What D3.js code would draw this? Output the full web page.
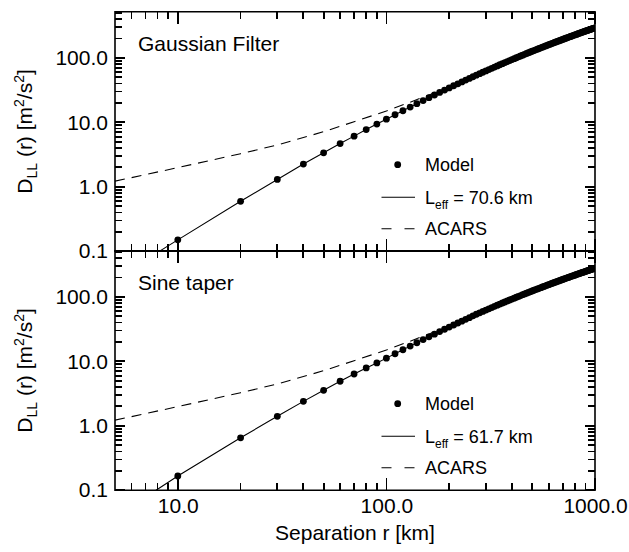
<!DOCTYPE html>
<html>
<head>
<meta charset="utf-8">
<script src="https://cdn.jsdelivr.net/npm/d3@7"></script>
<style>
  body { margin: 0; background: #fff; }
  svg { display: block; font-family: 'Liberation Sans', Arial, Helvetica, sans-serif; color: #000; }
</style>
</head>
<body>
<div id="chart"></div>
<script>
// Separation r [km] of the model points
const sepKm = [10, 20, 30, 40, 50, 60, 70, 80, 90, 100,
  110, 120, 130, 140, 150, 160, 170, 180, 190, 200,
  210, 220, 230, 240, 250, 260, 270, 280, 290, 300,
  310, 320, 330, 340, 350, 360, 370, 380, 390, 400,
  410, 420, 430, 440, 450, 460, 470, 480, 490, 500,
  510, 520, 530, 540, 550, 560, 570, 580, 590, 600,
  610, 620, 630, 640, 650, 660, 670, 680, 690, 700,
  710, 720, 730, 740, 750, 760, 770, 780, 790, 800,
  810, 820, 830, 840, 850, 860, 870, 880, 890, 900,
  910, 920, 930, 940, 950, 960, 970, 980, 990, 1000];

// D_LL(r) of the model, Gaussian filter panel
const gaussModel = [0.150, 0.594, 1.30, 2.25, 3.36, 4.68, 6.10, 7.72, 9.40, 11.17,
  13.10, 15.12, 17.24, 19.45, 21.74, 24.09, 26.52, 29.03, 31.59, 34.20,
  36.88, 39.60, 42.36, 45.18, 48.02, 50.90, 53.83, 56.79, 59.75, 62.75,
  65.80, 68.83, 71.91, 75.02, 78.14, 81.28, 84.43, 87.59, 90.80, 93.99,
  97.21, 100.4, 103.7, 106.9, 110.2, 113.4, 116.7, 120.0, 123.2, 126.6,
  129.8, 133.1, 136.4, 139.7, 143.0, 146.4, 149.7, 153.0, 156.4, 159.7,
  163.0, 166.4, 169.7, 173.0, 176.4, 179.7, 183.1, 186.4, 189.8, 193.1,
  196.5, 199.8, 203.2, 206.5, 209.9, 213.2, 216.6, 219.9, 223.3, 226.6,
  229.9, 233.2, 236.6, 239.9, 243.2, 246.6, 249.9, 253.2, 256.5, 259.8,
  263.1, 266.5, 269.8, 273.1, 276.4, 279.7, 283.0, 286.2, 289.5, 292.8];

// D_LL(r) of the model, sine taper panel
const sineModel = [0.166, 0.65, 1.40, 2.39, 3.55, 4.90, 6.35, 7.90, 9.45, 11.2,
  13.1, 15.1, 17.2, 19.4, 21.7, 24.0, 26.4, 28.9, 31.4, 34.0,
  36.6, 39.3, 42.0, 44.8, 47.6, 50.8, 53.7, 56.6, 59.4, 62.3,
  65.3, 68.2, 71.2, 74.2, 77.2, 80.2, 83.2, 86.3, 89.3, 92.4,
  95.5, 98.5, 101.7, 104.7, 107.9, 110.9, 114.0, 117.2, 120.2, 123.4,
  126.5, 129.6, 132.7, 135.8, 138.9, 142.1, 145.2, 148.4, 151.6, 154.7,
  157.8, 161.0, 164.0, 167.1, 170.3, 173.4, 176.6, 179.7, 182.9, 185.9,
  189.1, 192.2, 195.3, 198.4, 201.6, 204.6, 207.8, 210.9, 214.0, 217.1,
  220.2, 223.2, 226.4, 229.4, 232.5, 235.6, 238.7, 241.7, 244.8, 247.8,
  250.8, 254.0, 257.0, 260.1, 263.1, 266.1, 269.2, 272.1, 275.1, 278.2];

// where the fitted (solid) line enters from below the panel
const fitStartR = [8.0, 7.8];
const fitStartV = [0.096, 0.098];

// ACARS structure function (dashed)
const acarsR = [5, 10, 20, 30, 40, 50, 70, 100, 130, 160, 190, 200];
const acarsV = [1.22, 1.98, 3.25, 4.45, 5.8, 7.15, 10.2, 15.0, 20.5, 26.5, 33.0, 35.3];

const panelTitles = ['Gaussian Filter', 'Sine taper'];
const leffLabels = ['70.6', '61.7'];

// tick values
const xMajor = [10, 100, 1000];
const xMinor = [6, 7, 8, 9, 20, 30, 40, 50, 60, 70, 80, 90, 200, 300, 400, 500, 600, 700, 800, 900];
const yMajor = [0.1, 1, 10, 100];
const yMinor = [0.2, 0.3, 0.4, 0.5, 0.6, 0.7, 0.8, 0.9, 2, 3, 4, 5, 6, 7, 8, 9,
  20, 30, 40, 50, 60, 70, 80, 90, 200, 300, 400, 500];

const width = 629;
const height = 552;
const left = 115, right = 595;
const panelTops = [11.7, 250.7];
const panelH = 239.5;

const svg = d3.select('#chart')
  .append('svg')
  .attr('width', width)
  .attr('height', height);

const x = d3.scaleLog().domain([5, 1000]).range([left, right]);
const fmt = d3.format('.1f');

const models = [gaussModel, sineModel];

panelTops.forEach((pTop, i) => {
  const pBottom = pTop + panelH;
  const y = d3.scaleLog().domain([0.1, 520]).range([pBottom, pTop]);
  const g = svg.append('g');

  // clip
  const clipId = 'clip' + i;
  svg.append('clipPath').attr('id', clipId)
    .append('rect')
    .attr('x', left).attr('y', pTop)
    .attr('width', right - left).attr('height', pBottom - pTop);

  const plot = g.append('g').attr('clip-path', `url(#${clipId})`);

  const line = d3.line()
    .x(d => x(d[0]))
    .y(d => y(d[1]));

  // ACARS dashed
  plot.append('path')
    .datum(acarsR.map((r, k) => [r, acarsV[k]]))
    .attr('d', line)
    .attr('fill', 'none')
    .attr('stroke', '#000')
    .attr('stroke-width', 1.1)
    .attr('stroke-dasharray', '10,7');

  // fitted solid line
  const model = models[i];
  const fitData = [[fitStartR[i], fitStartV[i]]].concat(sepKm.map((r, k) => [r, model[k]]));
  plot.append('path')
    .datum(fitData)
    .attr('d', line)
    .attr('fill', 'none')
    .attr('stroke', '#000')
    .attr('stroke-width', 1.1);

  // model points
  plot.selectAll('circle.pt')
    .data(sepKm.map((r, k) => [r, model[k]]))
    .join('circle')
    .attr('class', 'pt')
    .attr('cx', d => x(d[0]))
    .attr('cy', d => y(d[1]))
    .attr('r', 3.4)
    .attr('fill', '#000');

  // frame
  g.append('path')
    .attr('d', `M${left},${pTop}H${right}V${pBottom}H${left}Z`)
    .attr('fill', 'none')
    .attr('stroke', '#000')
    .attr('stroke-width', 1.6);

  // tick labels from d3 axes
  const yAx = g.append('g')
    .attr('transform', `translate(${left},0)`)
    .call(d3.axisLeft(y).tickValues(yMajor).tickSize(0).tickPadding(7).tickFormat(fmt));
  yAx.select('.domain').remove();
  yAx.selectAll('text').style('font-size', '21px').attr('fill', '#000');

  if (i === 1) {
    const xAx = g.append('g')
      .attr('transform', `translate(0,${pBottom})`)
      .call(d3.axisBottom(x).tickValues(xMajor).tickSize(0).tickPadding(8).tickFormat(fmt));
    xAx.select('.domain').remove();
    xAx.selectAll('text').style('font-size', '21px').attr('fill', '#000');
  }

  // tick marks, all pointing inward, drawn on top
  const yTicks = yMajor.map(v => [v, 10]).concat(yMinor.map(v => [v, 7]));
  const xTicks = xMajor.map(v => [v, 12]).concat(xMinor.map(v => [v, 7]));
  let tickPath = '';
  yTicks.forEach(d => {
    const ty = y(d[0]).toFixed(2);
    tickPath += `M${left},${ty}h${d[1]}M${right},${ty}h${-d[1]}`;
  });
  xTicks.forEach(d => {
    const tx = x(d[0]).toFixed(2);
    tickPath += `M${tx},${pTop}v${d[1]}M${tx},${pBottom}v${-d[1]}`;
  });
  g.append('path')
    .attr('class', 'ticks')
    .attr('d', tickPath)
    .attr('fill', 'none')
    .attr('stroke', '#000')
    .attr('stroke-width', 1.8)
    .attr('shape-rendering', 'crispEdges');

  // panel title
  g.append('text')
    .attr('x', 138)
    .attr('y', pTop + 39.5)
    .style('font-size', '21px')
    .text(panelTitles[i]);

  // legend
  const lg = g.append('g').style('font-size', '18px');
  const rows = [pTop + 153, pTop + 185.5, pTop + 217];
  lg.append('circle').attr('cx', 397.7).attr('cy', rows[0]).attr('r', 3.4).attr('fill', '#000');
  lg.append('text').attr('x', 425).attr('y', rows[0]).attr('dy', '0.36em').text('Model');
  lg.append('line')
    .attr('x1', 381.5).attr('x2', 415).attr('y1', rows[1]).attr('y2', rows[1])
    .attr('stroke', '#000').attr('stroke-width', 1.1);
  const lt = lg.append('text').attr('x', 425).attr('y', rows[1]).attr('dy', '0.36em');
  lt.append('tspan').text('L');
  lt.append('tspan').attr('dy', 5).style('font-size', '12px').text('eff');
  lt.append('tspan').attr('dy', -5).text(` = ${leffLabels[i]} km`);
  lg.append('line')
    .attr('x1', 381.5).attr('x2', 415).attr('y1', rows[2]).attr('y2', rows[2])
    .attr('stroke', '#000').attr('stroke-width', 1.1)
    .attr('stroke-dasharray', '10,13');
  lg.append('text').attr('x', 425).attr('y', rows[2]).attr('dy', '0.36em').text('ACARS');

  // y label
  const yl = g.append('text')
    .attr('transform', `translate(32,${(pTop + pBottom) / 2}) rotate(-90)`)
    .attr('text-anchor', 'middle')
    .style('font-size', '21px');
  yl.append('tspan').text('D');
  yl.append('tspan').attr('dy', 5).style('font-size', '14px').text('LL');
  yl.append('tspan').attr('dy', -5).text(' (r) [m');
  yl.append('tspan').attr('dy', -8).style('font-size', '14px').text('2');
  yl.append('tspan').attr('dy', 8).text('/s');
  yl.append('tspan').attr('dy', -8).style('font-size', '14px').text('2');
  yl.append('tspan').attr('dy', 8).text(']');
});

// x label
svg.append('text')
  .attr('x', (left + right) / 2)
  .attr('y', 540)
  .attr('text-anchor', 'middle')
  .style('font-size', '21px')
  .text('Separation r [km]');
</script>
</body>
</html>
